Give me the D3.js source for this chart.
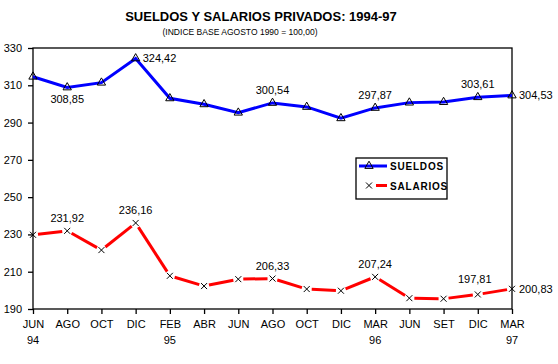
<!DOCTYPE html>
<html>
<head>
<meta charset="utf-8">
<script src="https://cdn.jsdelivr.net/npm/d3@7"></script>
<style>
  body { margin: 0; background: #fff; }
  text { font-family: "Liberation Sans", Arial, sans-serif; fill: #000; }
</style>
</head>
<body>
<div id="chart"></div>
<script>
const width = 558;
const height = 364;

// Data
const months = ['JUN', 'AGO', 'OCT', 'DIC', 'FEB', 'ABR', 'JUN', 'AGO', 'OCT', 'DIC', 'MAR', 'JUN', 'SET', 'DIC', 'MAR'];
const years = ['94', '', '', '', '95', '', '', '', '', '', '96', '', '', '', '97'];
const sueldos = [314.6, 308.85, 311.4, 324.42, 303.0, 299.8, 295.3, 300.54, 298.4, 292.3, 297.87, 300.7, 301.0, 303.61, 304.53];
const salarios = [229.8, 231.92, 221.6, 236.16, 207.8, 202.3, 206.0, 206.33, 200.7, 199.8, 207.24, 195.8, 195.5, 197.81, 200.83];
const yTicks = [190, 210, 230, 250, 270, 290, 310, 330];

// which points carry a value label and where
const sueldosLabels = { 1: 'below', 3: 'right', 7: 'above', 10: 'above', 13: 'above', 14: 'right' };
const salariosLabels = { 1: 'above', 3: 'above', 7: 'above', 10: 'above', 13: 'aboveleft', 14: 'right' };

const margin = { top: 48, right: 46, bottom: 55, left: 33 };
const plotW = width - margin.left - margin.right;
const plotH = height - margin.top - margin.bottom;

const svg = d3.select('#chart')
  .append('svg')
  .attr('width', width)
  .attr('height', height);

const x = d3.scaleLinear().domain([0, months.length - 1]).range([margin.left, margin.left + plotW]);
const y = d3.scaleLinear().domain([190, 330]).range([margin.top + plotH, margin.top]);

// Titles
svg.append('text')
  .attr('x', 261).attr('y', 21)
  .attr('text-anchor', 'middle')
  .style('font-size', '13px').style('font-weight', 'bold')
  .text('SUELDOS Y SALARIOS PRIVADOS: 1994-97');

svg.append('text')
  .attr('x', 240).attr('y', 35)
  .attr('text-anchor', 'middle')
  .style('font-size', '8.5px')
  .attr('textLength', 155)
  .text('(INDICE BASE AGOSTO 1990 = 100,00)');

// Frame
svg.append('rect')
  .attr('x', x(0)).attr('y', y(330))
  .attr('width', x(months.length - 1) - x(0))
  .attr('height', y(190) - y(330))
  .attr('fill', 'none').attr('stroke', '#000').attr('stroke-width', 1.3);

// Y axis
const yAxis = d3.axisLeft(y).tickValues(yTicks).tickSize(5).tickPadding(6);
const gy = svg.append('g').attr('transform', `translate(${x(0)},0)`).call(yAxis);
gy.select('.domain').remove();
gy.selectAll('line').attr('stroke', '#000').attr('stroke-width', 1.3);
gy.selectAll('text').style('font-size', '11px').style('font-family', '"Liberation Sans", Arial, sans-serif');

// X axis
const xAxis = d3.axisBottom(x).tickValues(d3.range(months.length)).tickFormat(i => months[i]).tickSize(5).tickPadding(6);
const gx = svg.append('g').attr('transform', `translate(0,${y(190)})`).call(xAxis);
gx.select('.domain').remove();
gx.selectAll('line').attr('stroke', '#000').attr('stroke-width', 1.3);
gx.selectAll('text').style('font-size', '11px').style('font-family', '"Liberation Sans", Arial, sans-serif');

svg.selectAll('.year')
  .data(years)
  .enter()
  .append('text')
  .attr('class', 'year')
  .attr('x', (d, i) => x(i))
  .attr('y', y(190) + 35)
  .attr('text-anchor', 'middle')
  .style('font-size', '11px')
  .text(d => d);

// Sueldos line
const line = d3.line().x((d, i) => x(i)).y(d => y(d));
svg.append('path')
  .datum(sueldos)
  .attr('d', line)
  .attr('fill', 'none')
  .attr('stroke', '#0000ff')
  .attr('stroke-width', 3);

// Salarios line, broken around the markers
const gap = 5;
const segs = d3.pairs(salarios.map((d, i) => [x(i), y(d)]));
svg.selectAll('.salseg')
  .data(segs)
  .enter()
  .append('line')
  .attr('class', 'salseg')
  .each(function (d) {
    const [a, b] = d;
    const dx = b[0] - a[0], dy = b[1] - a[1];
    const len = Math.sqrt(dx * dx + dy * dy);
    const ux = dx / len, uy = dy / len;
    d3.select(this)
      .attr('x1', a[0] + ux * gap).attr('y1', a[1] + uy * gap)
      .attr('x2', b[0] - ux * gap).attr('y2', b[1] - uy * gap);
  })
  .attr('stroke', '#ff0000')
  .attr('stroke-width', 3);

// Markers
const tri = d3.symbol().type(d3.symbolTriangle).size(30);
svg.selectAll('.tri')
  .data(sueldos)
  .enter()
  .append('path')
  .attr('class', 'tri')
  .attr('d', tri)
  .attr('transform', (d, i) => `translate(${x(i)},${y(d)})`)
  .attr('fill', 'none')
  .attr('stroke', '#000')
  .attr('stroke-width', 1);

svg.selectAll('.cross')
  .data(salarios)
  .enter()
  .append('path')
  .attr('class', 'cross')
  .attr('d', 'M-3,-3L3,3M-3,3L3,-3')
  .attr('transform', (d, i) => `translate(${x(i)},${y(d)})`)
  .attr('fill', 'none')
  .attr('stroke', '#000')
  .attr('stroke-width', 1);

// Value labels
function fmt(v) { return v.toFixed(2).replace('.', ','); }
function addLabels(values, where) {
  Object.keys(where).forEach(function (k) {
    const i = +k;
    const pos = where[k];
    let lx = x(i), ly = y(values[i]), anchor = 'middle';
    if (pos === 'above') { ly -= 9; }
    else if (pos === 'aboveleft') { ly -= 11; lx -= 3; }
    else if (pos === 'below') { ly += 16; }
    else if (pos === 'right') { lx += 7; ly += 4; anchor = 'start'; }
    svg.append('text')
      .attr('x', lx).attr('y', ly)
      .attr('text-anchor', anchor)
      .style('font-size', '11px')
      .text(fmt(values[i]));
  });
}
addLabels(sueldos, sueldosLabels);
addLabels(salarios, salariosLabels);

// Legend
const legend = svg.append('g').attr('transform', 'translate(356,158)');
legend.append('rect')
  .attr('width', 91).attr('height', 41)
  .attr('fill', '#fff').attr('stroke', '#000').attr('stroke-width', 1.3);

const items = [
  { name: 'SUELDOS', color: '#0000ff', marker: 'tri' },
  { name: 'SALARIOS', color: '#ff0000', marker: 'cross' }
];
items.forEach(function (it, i) {
  const cy = 8 + i * 19.5;
  if (it.marker === 'tri') {
    legend.append('line').attr('x1', 3).attr('x2', 31).attr('y1', cy).attr('y2', cy)
      .attr('stroke', it.color).attr('stroke-width', 3);
    legend.append('path').attr('d', tri).attr('transform', `translate(13,${cy})`)
      .attr('fill', 'none').attr('stroke', '#000');
  } else {
    legend.append('line').attr('x1', 20).attr('x2', 31).attr('y1', cy).attr('y2', cy)
      .attr('stroke', it.color).attr('stroke-width', 3);
    legend.append('path').attr('d', 'M-3,-3L3,3M-3,3L3,-3').attr('transform', `translate(13,${cy})`)
      .attr('fill', 'none').attr('stroke', '#000');
  }
  legend.append('text')
    .attr('x', 34).attr('y', cy + 4)
    .style('font-size', '10px').style('font-weight', 'bold')
    .style('letter-spacing', '0.8px')
    .text(it.name);
});
</script>
</body>
</html>
